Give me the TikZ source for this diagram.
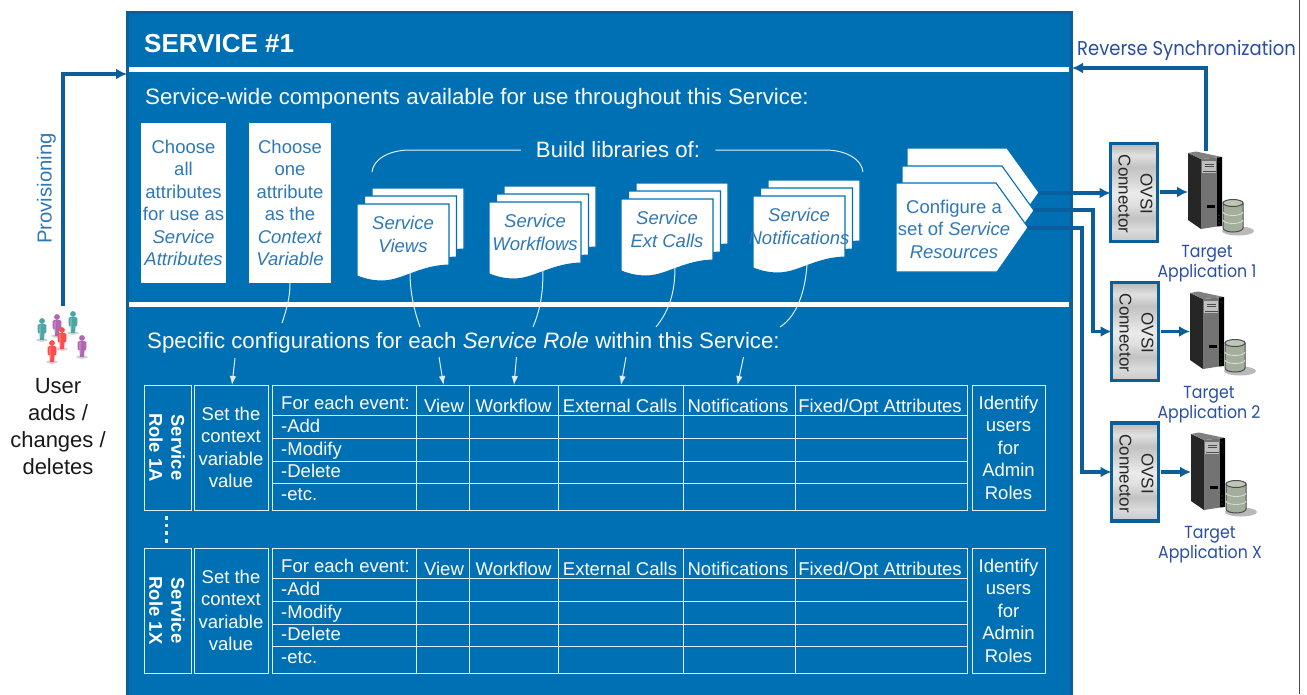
\documentclass[tikz,border=0pt]{standalone}
\usepackage{fontspec}
\setmainfont{Liberation Sans}
\newfontfamily\geo[FakeStretch=0.9]{Poppins}
\usetikzlibrary{arrows.meta,calc}
\definecolor{mainblue}{HTML}{0070B5}
\definecolor{edgeblue}{HTML}{0C5F9A}
\definecolor{lineblue}{HTML}{0B5E99}
\definecolor{softwhite}{HTML}{E2EEF7}
\definecolor{inkblue}{HTML}{2F78B8}
\definecolor{geoblue}{HTML}{2B4FA0}
\pgfdeclareverticalshading{connband}{100bp}{rgb(0bp)=(.8,.8,.8); rgb(25bp)=(.78,.78,.78); rgb(31bp)=(.86,.86,.86); rgb(37bp)=(.76,.76,.76); rgb(44bp)=(.88,.88,.88); rgb(50bp)=(.92,.92,.92); rgb(56bp)=(.84,.84,.84); rgb(63bp)=(.76,.76,.76); rgb(69bp)=(.88,.88,.88); rgb(75bp)=(.72,.72,.72); rgb(100bp)=(.72,.72,.72)}
\tikzset{
  fs/.style={font=\fontsize{#1}{22.5}\selectfont},
  bodytext/.style={text=white,inner sep=0pt,fs=18.5},
  whitebox/.style={fill=white,draw=none,text=inkblue,anchor=north west,inner sep=0pt,outer sep=0pt,align=center,fs=18.5},
  cellbox/.style={draw=softwhite,line width=1pt,anchor=north west,inner sep=0pt,outer sep=0pt,text=white,align=center,fs=18.5},
  sepline/.style={draw=white,line width=5pt},
  flow/.style={draw=lineblue,line width=3.6pt,-{Latex[length=11pt,width=11pt]}},
  thinline/.style={draw=softwhite,line width=1pt},
  thinarrow/.style={draw=softwhite,line width=1pt,-{Latex[length=9pt,width=6.5pt]}},
  docpage/.style={fill=white,draw=mainblue,line width=1.1pt},
  connbox/.style={shade,shading=connband,draw=lineblue,line width=3.6pt,anchor=north west,inner sep=0pt,outer sep=0pt,minimum width=47pt,minimum height=98pt},
  geotext/.style={text=geoblue,inner sep=0pt,align=center,font=\geo\fontsize{17.5}{20}\selectfont},
}
\newcommand{\docstack}[5]{% name,x,y,line1,line2
  \foreach \dx/\dy in {15/-16,7.5/-8,0/0}{
    \begin{scope}[shift={(#2+\dx,#3+\dy)}]
      \path[docpage] (0,0) -- (92,0) -- (92,61) .. controls (62,62) and (45,77) .. (25,77) .. controls (15,77) and (8,75) .. (0,72) -- cycle;
    \end{scope}}
  \node[inner sep=0pt,text=inkblue,align=center,fs=18.5] (#1) at (#2+46,#3+30.5) {#4\\#5};
}
\newcommand{\chevpage}[3]{% x,y,colour
  \begin{scope}[shift={(#1,#2)}]
    \path[fill=white,draw=mainblue,line width=1.1pt] (0,0) -- (100,0) -- (132,44.5) -- (101,89) -- (0,89) -- cycle;
  \end{scope}}
\newcommand{\serverimg}[3]{% name,x,y
  \begin{scope}[shift={(#2,#3)}]
    \fill[gray!55] (50,78) ellipse (16 and 4.5);
    \fill[black!85] (0,0) -- (13,6) -- (13,76) -- (0,67) -- cycle;
    \fill[black!50] (0,0) -- (8,-1.5) -- (34,4) -- (13,6) -- cycle;
    \fill[black!55] (13,6) -- (29,4.5) -- (29,73.5) -- (13,76) -- cycle;
    \fill[black] (29,4.5) -- (34,4) -- (34,73) -- (29,73.5) -- cycle;
    \fill[black!25] (14,8) rectangle (28,20);
    \draw[black!70,line width=.9pt] (17,11) -- (26,11) (17,13.5) -- (26,13.5) (15,18) -- (28,18);
    \fill[black] (19,52) rectangle (27,54.5);
    \fill[green!60!black] (31,9) circle (.7) (31,62) circle (.7) (31,66) circle (.7) (31,70) circle (.7);
    \path[fill={rgb,255:red,163;green,174;blue,155},draw=black!70,line width=1pt] (35,50) -- (35,75) arc[start angle=180,end angle=0,x radius=10,y radius=4] -- (55,50) -- cycle;
    \path[fill={rgb,255:red,190;green,198;blue,182},draw=black!70,line width=1pt] (45,50) ellipse (10 and 3.5);
    \draw[white!85!black,line width=.9pt] (35,59) arc[start angle=180,end angle=0,x radius=10,y radius=3.5] (35,67) arc[start angle=180,end angle=0,x radius=10,y radius=3.5];
    \coordinate (#1top) at (18,-2);
    \coordinate (#1west) at (0,39);
  \end{scope}}
\newcommand{\person}[3]{% x,y,colour
  \begin{scope}[shift={(#1,#2)}]
    \fill[gray!35] (0,11) ellipse (6 and 1.6);
    \fill[#3] (0,-8) circle (2.9);
    \path[fill=#3] (-4.5,-4) .. controls (-3,-5.5) and (3,-5.5) .. (4.5,-4) -- (4.2,4) -- (2.6,4) -- (2,11) -- (-2,11) -- (-2.6,4) -- (-4.2,4) -- cycle;
    \fill[white,opacity=.18] (-3,-4) rectangle (-.8,8);
  \end{scope}}
\newcommand{\roletable}[3]{% offset, suffix, role lines
  \begin{scope}[shift={(0,#1)}]
    \node[cellbox,minimum width=47pt,minimum height=125pt] (role#2) at (144,385) {};
    \node[rotate=-90,inner sep=0pt,align=center,text=white,font=\bfseries\fontsize{18.5}{22}\selectfont] at (167,447.5) {#3};
    \node[cellbox,minimum width=74pt,minimum height=125pt] (ctx#2) at (194,385) {Set the\\context\\variable\\value};
    \draw[thinline] (272,385) rectangle (967,510);
    \draw[thinline] (272,415) -- (967,415) (272,438) -- (967,438) (272,461) -- (967,461) (272,483) -- (967,483);
    \draw[thinline] (416,385) -- (416,510) (469,385) -- (469,510) (558,385) -- (558,510) (683,385) -- (683,510) (795,385) -- (795,510);
    \node[bodytext,anchor=base west] at (281,409) {For each event:};
    \node[bodytext,anchor=base west] at (281,432) {-Add};
    \node[bodytext,anchor=base west] at (281,455) {-Modify};
    \node[bodytext,anchor=base west] at (281,477) {-Delete};
    \node[bodytext,anchor=base west] at (281,500) {-etc.};
    \node[bodytext,anchor=base] at (444,412) {View};
    \node[bodytext,anchor=base] at (513.5,412) {Workflow};
    \node[bodytext,anchor=base] at (620,412) {External Calls};
    \node[bodytext,anchor=base] at (738,412) {Notifications};
    \node[bodytext,anchor=base] at (880,412) {Fixed/Opt Attributes};
    \node[cellbox,minimum width=73pt,minimum height=125pt] (adm#2) at (972,385) {Identify\\users\\for\\Admin\\Roles};
  \end{scope}}
\begin{document}
\begin{tikzpicture}[x=1pt,y=-1pt]
\useasboundingbox (0,0) rectangle (1307,694);
\fill[white] (0,0) rectangle (1307,694);
\draw[black!70,line width=.8pt] (1299.5,0) -- (1299.5,694);
% main panel
\path[fill=mainblue,draw=edgeblue,line width=3pt] (127.5,12) rectangle (1071,700);
\draw[sepline] (129,69.5) -- (1069,69.5);
\draw[sepline] (129,304) -- (1069,304);
\coordinate (provin) at (127,74);
\coordinate (revin) at (1072,68);
\node[anchor=west,inner sep=0pt,text=white,font=\bfseries\fontsize{26}{30}\selectfont] (title) at (144,44) {SERVICE \#1};
\node[anchor=west,inner sep=0pt,text=white,fs=22.27] (wide) at (145,98.5) {Service-wide components available for use throughout this Service:};
\node[anchor=west,inner sep=0pt,text=white,fs=22.27] (specific) at (147,342.5) {Specific configurations for each \textit{Service Role} within this Service:};
% white boxes
\node[whitebox,minimum width=85pt,minimum height=160pt] (attrs) at (141,123) {Choose\\all\\attributes\\for use as\\\textit{Service}\\\textit{Attributes}};
\node[whitebox,minimum width=82pt,minimum height=160pt] (cvar) at (249,123) {Choose\\one\\attribute\\as the\\\textit{Context}\\\textit{Variable}};
% brace + label
\node[bodytext,fs=22.2] (build) at (618,149.5) {Build libraries of:};
\coordinate (bl) at (372,172); \coordinate (br) at (863,172);
\draw[thinline] (bl) .. controls (373,160) and (388,150) .. (410,150) -- ($(build.west)+(-15,.5)$);
\draw[thinline] (br) .. controls (862,160) and (847,150) .. (825,150) -- ($(build.east)+(15,.5)$);
% doc stacks
\docstack{dviews}{357}{204}{\textit{Service}}{\textit{Views}}
\docstack{dwork}{489}{202}{\textit{Service}}{\textit{Workflows}}
\docstack{dext}{621}{199}{\textit{Service}}{\textit{Ext Calls}}
\docstack{dnotif}{753}{196}{\textit{Service}}{\textit{Notifications}}
% chevrons
\chevpage{907}{148}{}
\chevpage{902}{166}{}
\chevpage{896}{183}{}
\node[inner sep=0pt,text=inkblue,align=center,fs=18.5] (res) at (954,229) {Configure a\\set of \textit{Service}\\\textit{Resources}};
\coordinate (resA) at (1039,193);
\coordinate (resB) at (1034,210);
\coordinate (resC) at (1028,228);
% tables
\roletable{0}{A}{Service\\Role 1A}
\roletable{163}{X}{Service\\Role 1X}
\foreach \yy in {518,525.5,533,541}{\fill[softwhite] (164.5,\yy-1.6) rectangle (167.5,\yy+1.6);}
% curved leaders
\coordinate (a1) at (290,283); \coordinate (a2) at (282,323); \coordinate (a3) at (235,358); \coordinate (a4) at (232,385);
\draw[thinline] (a1) .. controls (290,297) and (287,308) .. (a2);
\draw[thinarrow] (a3) -- (a4);
\coordinate (v1) at (410,272); \coordinate (v2) at (420,327); \coordinate (v3) at (439,357); \coordinate (v4) at (443.5,385);
\draw[thinline] (v1) .. controls (410,292) and (414,310) .. (v2);
\draw[thinarrow] (v3) -- (v4);
\coordinate (w1) at (543,270); \coordinate (w2) at (533,327); \coordinate (w3) at (516.5,357); \coordinate (w4) at (514,385);
\draw[thinline] (w1) .. controls (543,295) and (540,310) .. (w2);
\draw[thinarrow] (w3) -- (w4);
\coordinate (e1) at (675,267); \coordinate (e2) at (656,327); \coordinate (e3) at (626,357); \coordinate (e4) at (621,385);
\draw[thinline] (e1) .. controls (675,295) and (668,312) .. (e2);
\draw[thinarrow] (e3) -- (e4);
\coordinate (n1) at (807,265); \coordinate (n2) at (780,327); \coordinate (n3) at (743.5,357); \coordinate (n4) at (737.5,385);
\draw[thinline] (n1) .. controls (805,292) and (797,316) .. (n2);
\draw[thinarrow] (n3) -- (n4);
% connectors
\node[connbox] (connA) at (1110.5,143.5) {};
\node[connbox] (connB) at (1111.5,282.5) {};
\node[connbox] (connC) at (1111.5,423) {};
\foreach \nm in {connA,connB,connC}{
  \node[rotate=-90,inner sep=0pt,align=center,text=black!85,font=\fontsize{17}{22}\selectfont,xshift=1.5pt,yshift=1.5pt] at (\nm.center) {OVSI\\Connector};
}
% servers
\serverimg{srvA}{1188}{153}
\serverimg{srvB}{1190}{293}
\serverimg{srvC}{1191}{434}
\node[geotext] (tA) at (1207,264) {Target\\Application 1};
\node[geotext] (tB) at (1209,405) {Target\\Application 2};
\node[geotext] (tC) at (1210,545) {Target\\Application X};
\node[anchor=east,inner sep=0pt,text=geoblue,font=\geo\fontsize{20}{22}\selectfont] (rev) at (1296,50) {Reverse Synchronization};
% flows
\draw[flow] (srvAtop) |- (revin);
\draw[flow] (resA) -- (resA -| connA.west);
\draw[flow] (resB) -- ++(59,0) |- (connB.west);
\draw[flow] (resC) -- ++(54,0) |- (connC.west);
\draw[flow] (connA.east |- srvAwest) ++(2,0) -- (srvAwest);
\draw[flow] (connB.east) ++(2,0) -- (connB.east -| srvBwest);
\draw[flow] (connC.east) ++(2,0) -- (connC.east -| srvCwest);
% people
\person{42}{329}{teal!70!white}
\person{57}{325}{violet!60!white}
\person{73}{322}{teal!70!white}
\person{62}{338}{red!70!white}
\person{82}{346}{violet!60!white}
\person{52}{351}{red!70!white}
\coordinate (people) at (63,306);
\draw[flow] (people) |- (provin);
\node[rotate=90,inner sep=0pt,text=inkblue,fs=20.3] (prov) at (46.5,188.5) {Provisioning};
\node[inner sep=0pt,align=center,text=black!90,font=\fontsize{22}{27}\selectfont] (user) at (58,427) {User\\adds /\\changes /\\deletes};
\end{tikzpicture}
\end{document}
